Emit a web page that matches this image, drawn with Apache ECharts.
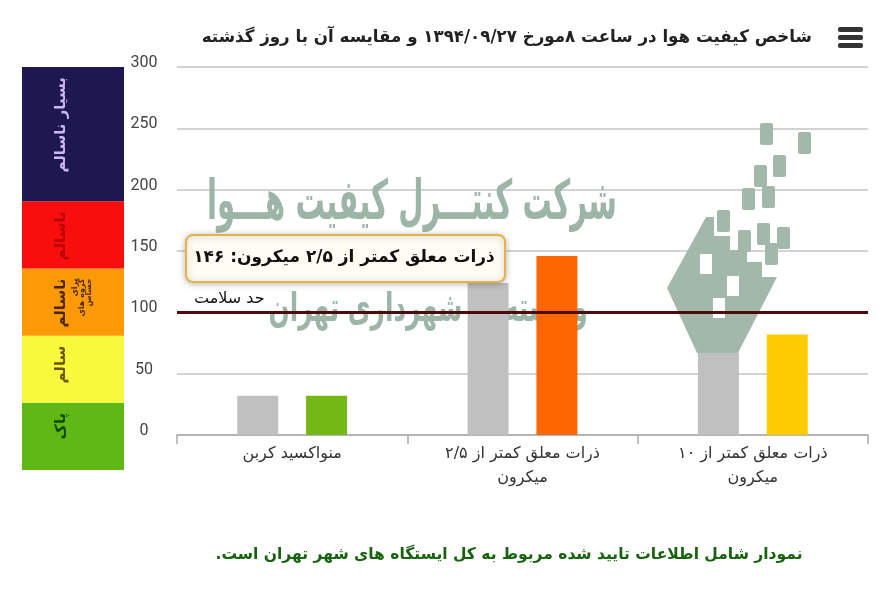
<!DOCTYPE html>
<html>
<head>
<meta charset="utf-8">
<script src="https://cdn.jsdelivr.net/npm/echarts@6/dist/echarts.min.js"></script>
<style>
html,body{margin:0;padding:0;background:#fff;}
#c{width:882px;height:608px;direction:rtl;}
</style>
</head>
<body>
<div id="c"></div>
<script>
// ---- data ----
var titleText = 'شاخص کیفیت هوا در ساعت ۸مورخ ۱۳۹۴/۰۹/۲۷ و مقایسه آن با روز گذشته';
var footText = 'نمودار شامل اطلاعات تایید شده مربوط به کل ایستگاه های شهر تهران است.';
var categories = ['منواکسید کربن', 'ذرات معلق کمتر از ۲/۵ میکرون', 'ذرات معلق کمتر از ۱۰ میکرون'];
var yesterday = [32, 124, 67];
var today = [32, 146, 82];
var todayColors = ['#74b816', '#fd6600', '#fecb00'];
var yTicks = [0, 50, 100, 150, 200, 250, 300];
var healthLimit = 100;
var healthLabel = 'حد سلامت';
var highlightIndex = 1;
var bandNames = ['پاک', 'سالم', 'ناسالم', 'ناسالم', 'بسیار ناسالم'];
var bandNotes = ['', '', 'برای\nگروه های\nحساس', '', ''];
var bandSizes = [50, 50, 50, 50, 100];
var bandColors = ['#5fb815', '#f8f83c', '#fb9a06', '#f90e0e', '#1f1750'];
var bandTextColors = ['#0b4a0b', '#6b5400', '#4a2600', '#b80000', '#cbb8f2'];
var watermark1 = 'شرکت کنتـــرل کیفیت هـــوا';
var watermark2 = 'وابسته به شهرداری تهران';

function toFa(s){ return String(s).replace(/\d/g, function(d){ return '۰۱۲۳۴۵۶۷۸۹'[d]; }); }

var FONT = 'DejaVu Sans';
var chart = echarts.init(document.getElementById('c'), null, {renderer:'canvas'});

var bandSeries = bandSizes.map(function(v, i){
  var txt = '{m|' + bandNames[i] + '}';
  if (bandNotes[i]) {
    txt += '\n' + bandNotes[i].split('\n').map(function(l){ return '{s|' + l + '}'; }).join('\n');
  }
  return {
    type: 'bar', xAxisIndex: 1, yAxisIndex: 1, stack: 'band', barWidth: '100%',
    silent: true,
    data: [v],
    itemStyle: {color: bandColors[i]},
    label: {
      show: true, position: [29, 10], rotate: 90, align: 'right', verticalAlign: 'top',
      formatter: txt,
      rich: {
        m: {fontFamily: FONT, fontSize: 15, fontWeight: 'bold', color: bandTextColors[i], lineHeight: 20},
        s: {fontFamily: FONT, fontSize: 8, fontWeight: 'bold', color: bandTextColors[i], lineHeight: 7}
      }
    }
  };
});

var logoSquares = [[760,123],[798,132],[773,155],[754,165],[742,188],[762,186],[717,210],[757,223],[777,227],[738,230],[713,242],[765,243]];
var logoEls = logoSquares.map(function(p){
  return {type:'rect', shape:{x:p[0], y:p[1], width:13, height:22, r:2}, style:{fill:'#a2b8ab'}, z:1, silent:true};
});
logoEls.push({type:'polygon', z:1, silent:true, shape:{points:[[706,217],[667,288],[697,353],[738,353],[777,277],[762,277],[762,262],[747,262],[747,250],[730,250],[730,236],[714,236],[714,217]]}, style:{fill:'#a2b8ab'}});
logoEls.push({type:'rect', z:1, silent:true, shape:{x:700,y:254,width:12,height:20}, style:{fill:'#fff'}});
logoEls.push({type:'rect', z:1, silent:true, shape:{x:727,y:276,width:12,height:20}, style:{fill:'#fff'}});
logoEls.push({type:'rect', z:1, silent:true, shape:{x:713,y:298,width:12,height:20}, style:{fill:'#fff'}});

var option = {
  backgroundColor: '#fff',
  animation: false,
  grid: [
    {left: 177, right: 14, top: 67, bottom: 173},
    {left: 22, width: 102, top: 67, height: 403}
  ],
  xAxis: [
    {
      type: 'category', data: categories, gridIndex: 0,
      axisLine: {lineStyle: {color: '#aaaaaa', width: 1.5}},
      axisTick: {show: true, length: 9, lineStyle: {color: '#aaaaaa', width: 1.5}},
      axisLabel: {
        fontFamily: FONT, fontSize: 16, color: '#333', margin: 7, lineHeight: 24,
        formatter: function(v){ return v.replace(' میکرون', '\nمیکرون'); }
      }
    },
    {type: 'category', data: ['band'], gridIndex: 1, show: false}
  ],
  yAxis: [
    {
      type: 'value', gridIndex: 0, min: 0, max: 300, interval: 50,
      axisLine: {show: false}, axisTick: {show: false},
      splitLine: {lineStyle: {color: '#c4c4c4', width: 1.5}},
      axisLabel: {
        fontFamily: 'Roboto', fontSize: 16, color: '#444', margin: 33, align: 'center',
        verticalAlign: 'bottom', lineHeight: 8,
        formatter: function(v){ return yTicks.indexOf(v) >= 0 ? String(v) : ''; }
      }
    },
    {type: 'value', gridIndex: 1, min: 0, max: 300, show: false}
  ],
  series: [
    {
      name: 'دیروز', type: 'bar', data: yesterday, barWidth: 41, barGap: '68%',
      itemStyle: {color: '#c0c0c0'}, z: 3
    },
    {
      name: 'امروز', type: 'bar', barWidth: 41, z: 3,
      data: today.map(function(v, i){ return {value: v, itemStyle: {color: todayColors[i]}}; }),
      markLine: {
        silent: true, symbol: 'none', z: 4,
        lineStyle: {color: '#4e0b0b', width: 3, type: 'solid'},
        label: {
          position: 'insideStartTop', formatter: healthLabel, distance: [17, 5],
          fontFamily: FONT, fontSize: 16, color: '#111'
        },
        data: [{yAxis: healthLimit}]
      }
    }
  ].concat(bandSeries),
  graphic: [
    {type:'text', z:1, silent:true, x: 412, y: 205, scaleX: 0.53,
      style:{text: watermark1, x: 0, y: 0, align:'center', verticalAlign:'middle', font:'bold 55px "DejaVu Sans"', fill:'#9db5a7'}},
    {type:'text', z:1, silent:true, x: 428, y: 311, scaleX: 0.62,
      style:{text: watermark2, x: 0, y: 0, align:'center', verticalAlign:'middle', font:'bold 40px "DejaVu Sans"', fill:'#9db5a7'}}
  ].concat(logoEls).concat([
    {type:'text', z:10, x: 812, y: 38, scaleX: 0.98,
      style:{text: titleText, x: 0, y: 0, align:'right', verticalAlign:'middle', font:'bold 17px "DejaVu Sans"', fill:'#222'}},
    {type:'rect', z:10, shape:{x:838, y:27, width:25, height:5, r:2}, style:{fill:'#333'}},
    {type:'rect', z:10, shape:{x:838, y:35, width:25, height:5, r:2}, style:{fill:'#333'}},
    {type:'rect', z:10, shape:{x:838, y:43, width:25, height:5, r:2}, style:{fill:'#333'}},
    {type:'rect', z:100, shape:{x:186, y:235, width:319, height:47, r:7},
      style:{fill:'#fffdf3', stroke:'#e6b445', lineWidth:2, shadowBlur:6, shadowColor:'rgba(0,0,0,0.25)', shadowOffsetY:1}},
    {type:'text', z:101, style:{text: categories[highlightIndex] + ': ' + toFa(today[highlightIndex]), x: 344, y: 258, align:'center', verticalAlign:'middle', font:'bold 17px "DejaVu Sans"', fill:'#111'}},
    {type:'text', z:10, x: 509, y: 555, scaleX: 0.97,
      style:{text: footText, x: 0, y: 0, align:'center', verticalAlign:'middle', font:'bold 16px "DejaVu Sans"', fill:'#17620c'}}
  ])
};
chart.setOption(option);
</script>
</body>
</html>
